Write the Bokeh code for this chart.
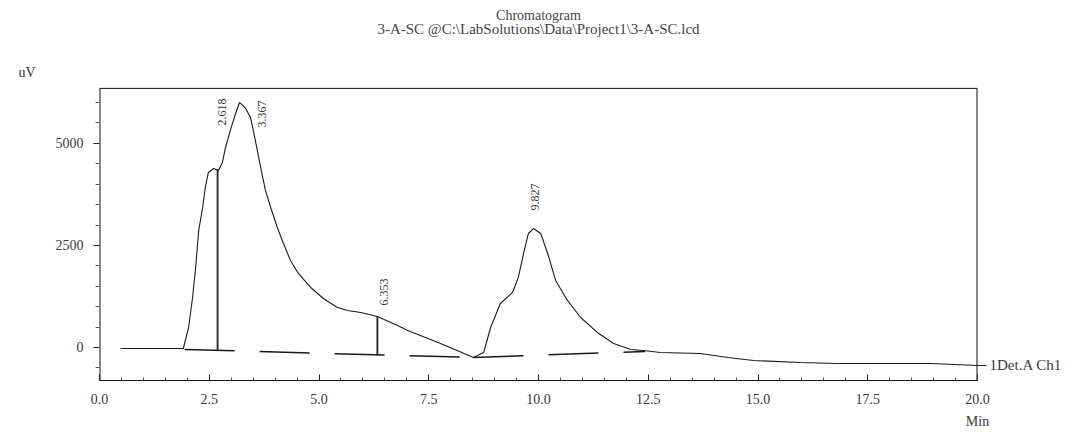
from bokeh.plotting import figure
from bokeh.models import FixedTicker, Label, LinearAxis, PrintfTickFormatter, Range1d
from bokeh.core.properties import value
from bokeh.embed import file_html
from bokeh.resources import INLINE

# ---- data ----
time_min = [0.48, 1.91, 2.03, 2.12, 2.19, 2.26, 2.35, 2.41, 2.48, 2.60, 2.71, 2.80, 2.87,
            2.98, 3.10, 3.19, 3.33, 3.44, 3.55, 3.67, 3.78, 3.90, 4.05, 4.19, 4.35, 4.53,
            4.81, 5.10, 5.42, 5.65, 5.95, 6.33, 6.79, 7.02, 7.77, 8.52, 8.75, 8.91, 9.13,
            9.41, 9.54, 9.66, 9.77, 9.89, 10.05, 10.21, 10.39, 10.66, 10.96, 11.34, 11.71,
            12.10, 12.39, 12.78, 13.69, 14.31, 14.90, 15.97, 16.81, 18.93, 20.0]
signal_uv = [-25, -25, 490, 1225, 1960, 2867, 3430, 3920, 4288, 4386, 4337, 4533, 4900,
             5317, 5733, 6003, 5856, 5635, 5072, 4410, 3847, 3430, 2940, 2548, 2132, 1813,
             1470, 1200, 980, 907, 858, 760, 539, 417, 98, -245, -123, 490, 1078,
             1348, 1715, 2303, 2793, 2916, 2793, 2303, 1642, 1152, 735, 368, 98,
             -49, -74, -123, -147, -245, -319, -368, -392, -392, -441]

baseline_x = [[1.94, 8.52], [8.52, 12.43]]
baseline_y = [[-49, -245], [-245, -98]]

drop_t = [2.69, 6.33]
drop_top = [4361, 760]
drop_bottom = [-74, -196]

peak_labels = ["2.618", "3.367", "6.353", "9.827"]
peak_label_t = [2.80, 3.71, 6.47, 9.93]
peak_label_y = [5439, 5390, 1029, 3357]

x_ticks = [0.0, 2.5, 5.0, 7.5, 10.0, 12.5, 15.0, 17.5, 20.0]
y_ticks = [0, 2500, 5000]
y_minor = [-500, 500, 1000, 1500, 2000, 3000, 3500, 4000, 4500, 5500, 6000]

title_1 = "Chromatogram"
title_2 = "3-A-SC @C:\\LabSolutions\\Data\\Project1\\3-A-SC.lcd"
y_unit = "uV"
x_unit = "Min"
trace_name = "1Det.A Ch1"

# ---- layout / style constants (pixel scale: 24.5 uV per px, 43.9 px per min) ----
X0, X1 = 0, 20            # time axis limits (min)
Y_LOW, Y_BOX = -809, 6348  # bottom of chart box, top edge of chart box (uV)
Y_CANVAS_TOP = 8501        # value at the very top of the canvas (room for titles)
TITLE_Y = [8134, 7815]
UNIT_Y = 6737

FONT = value("Liberation Serif")
TXT = "#3a3a3a"
INK = "#111111"

W, H = 1085, 432
p = figure(width=W, height=H, output_backend="svg", toolbar_location=None, title=None,
           x_range=Range1d(X0, X1), y_range=Range1d(Y_LOW, Y_CANVAS_TOP),
           min_border_left=99, min_border_right=W - 99 - 878, min_border_top=0,
           min_border_bottom=H - 380)
p.background_fill_color = "white"
p.border_fill_color = "white"
p.outline_line_color = None
p.xgrid.visible = False
p.ygrid.visible = False

# chart box (top, left, right edges; bottom edge is the x axis line)
p.segment(x0=[X0, X0, X1], y0=[Y_BOX, Y_LOW, Y_LOW], x1=[X1, X0, X1], y1=[Y_BOX, Y_BOX, Y_BOX],
          line_color=INK, line_width=[1, 2, 2])

# axes
xa = p.xaxis[0]
xa.ticker = FixedTicker(ticks=x_ticks, minor_ticks=[t + 0.5 * k for t in x_ticks[:-1] for k in range(1, 5)])
xa.formatter = PrintfTickFormatter(format="%.1f")
xa.major_tick_in = 6
xa.major_tick_out = 0
xa.minor_tick_in = 3
xa.minor_tick_out = 0
xa.axis_line_color = INK
xa.major_tick_line_color = "#222222"
xa.minor_tick_line_color = "#555555"
xa.major_label_text_font = "Liberation Serif"
xa.major_label_text_font_size = "14px"
xa.major_label_text_color = TXT
xa.major_label_standoff = 13

# "Min" caption: a tick-only axis stacked below the time axis, label starting at 20.0
ma = LinearAxis(ticker=FixedTicker(ticks=[X1], minor_ticks=[]),
                major_label_overrides={X1: x_unit})
ma.axis_line_color = None
ma.major_tick_line_color = None
ma.major_tick_in = 0
ma.major_tick_out = 0
ma.major_label_standoff = 7
ma.major_label_text_align = "left"
ma.major_label_text_font = "Liberation Serif"
ma.major_label_text_font_size = "14px"
ma.major_label_text_color = TXT
p.add_layout(ma, "below")

ya = p.yaxis[0]
ya.ticker = FixedTicker(ticks=y_ticks, minor_ticks=y_minor)
ya.major_tick_in = 0
ya.major_tick_out = 6
ya.minor_tick_in = 0
ya.minor_tick_out = 4
ya.axis_line_color = None
ya.major_tick_line_color = "#222222"
ya.minor_tick_line_color = "#555555"
ya.major_label_text_font = "Liberation Serif"
ya.major_label_text_font_size = "14px"
ya.major_label_text_color = TXT
ya.major_label_standoff = 10

# unit caption "uV" at the upper left: a tick-only axis
ua = LinearAxis(ticker=FixedTicker(ticks=[UNIT_Y], minor_ticks=[]),
                major_label_overrides={UNIT_Y: y_unit})
ua.axis_line_color = None
ua.major_tick_line_color = None
ua.major_tick_in = 0
ua.major_tick_out = 0
ua.major_label_standoff = 17
ua.major_label_text_font = "Liberation Serif"
ua.major_label_text_font_size = "14px"
ua.major_label_text_color = TXT
p.add_layout(ua, "left")

# right-side trace name: an axis with a single tick at the trace's end value
ra = LinearAxis(ticker=FixedTicker(ticks=[signal_uv[-1]], minor_ticks=[]),
                major_label_overrides={signal_uv[-1]: trace_name})
ra.axis_line_color = None
ra.major_tick_in = 0
ra.major_tick_out = 9
ra.major_tick_line_color = "#222222"
ra.major_label_standoff = 3
ra.major_label_text_font = "Liberation Serif"
ra.major_label_text_font_size = "15px"
ra.major_label_text_color = TXT
p.add_layout(ra, "right")

# chromatogram trace
p.line(time_min, signal_uv, line_color="#1a1a1a", line_width=1.1)

# integration baselines
p.multi_line(baseline_x, baseline_y, line_color="#1a1a1a", line_width=1.5, line_dash="50 25")

# drop lines
p.segment(x0=drop_t, y0=drop_bottom, x1=drop_t, y1=drop_top, line_color="#222222", line_width=1.8)

# peak labels (rotated)
p.text(x=peak_label_t, y=peak_label_y, text=peak_labels, angle=1.5708,
       text_font=FONT, text_font_size="12px", text_color=TXT,
       text_align="left", text_baseline="middle")

# two-line title
for txt, ty, fs in [(title_1, TITLE_Y[0], "14px"), (title_2, TITLE_Y[1], "15px")]:
    p.add_layout(Label(x=(X0 + X1) / 2, y=ty, text=txt, text_font="Liberation Serif",
                       text_font_size=fs, text_color="#444444",
                       text_align="center", text_baseline="middle"))

open("out.html", "w").write(file_html(p, INLINE))
